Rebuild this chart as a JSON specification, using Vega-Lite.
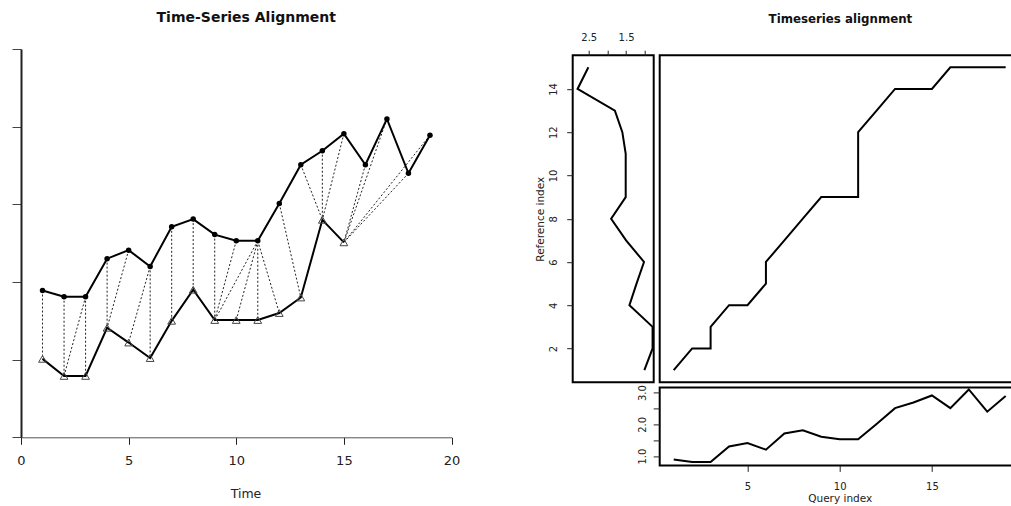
{
  "$schema": "https://vega.github.io/schema/vega-lite/v6.json",
  "padding": {"left": 11, "top": 10, "right": 0, "bottom": 0},
  "background": "white",
  "config": {
    "font": "DejaVu Sans",
    "axis": {"grid": false, "domainColor": "#222", "tickColor": "#222", "labelColor": "#222", "titleColor": "#222", "labelFont": "DejaVu Sans", "titleFont": "DejaVu Sans", "titleFontWeight": "normal", "labelFlush": false},
    "title": {"font": "DejaVu Sans", "fontWeight": "bold", "color": "#111"}
  },
  "datasets": {
    "top": [
      {"t": 1, "v": 1.89}, {"t": 2, "v": 1.81}, {"t": 3, "v": 1.81}, {"t": 4, "v": 2.30}, {"t": 5, "v": 2.41},
      {"t": 6, "v": 2.20}, {"t": 7, "v": 2.71}, {"t": 8, "v": 2.81}, {"t": 9, "v": 2.61}, {"t": 10, "v": 2.53},
      {"t": 11, "v": 2.53}, {"t": 12, "v": 3.01}, {"t": 13, "v": 3.51}, {"t": 14, "v": 3.69}, {"t": 15, "v": 3.91},
      {"t": 16, "v": 3.51}, {"t": 17, "v": 4.10}, {"t": 18, "v": 3.40}, {"t": 19, "v": 3.89}
    ],
    "query": [
      {"t": 1, "v": 0.89}, {"t": 2, "v": 0.81}, {"t": 3, "v": 0.81}, {"t": 4, "v": 1.30}, {"t": 5, "v": 1.41},
      {"t": 6, "v": 1.20}, {"t": 7, "v": 1.71}, {"t": 8, "v": 1.81}, {"t": 9, "v": 1.61}, {"t": 10, "v": 1.53},
      {"t": 11, "v": 1.53}, {"t": 12, "v": 2.01}, {"t": 13, "v": 2.51}, {"t": 14, "v": 2.69}, {"t": 15, "v": 2.91},
      {"t": 16, "v": 2.51}, {"t": 17, "v": 3.10}, {"t": 18, "v": 2.40}, {"t": 19, "v": 2.89}
    ],
    "ref": [
      {"t": 1, "v": 1.01}, {"t": 2, "v": 0.79}, {"t": 3, "v": 0.79}, {"t": 4, "v": 1.41}, {"t": 5, "v": 1.22},
      {"t": 6, "v": 1.02}, {"t": 7, "v": 1.50}, {"t": 8, "v": 1.90}, {"t": 9, "v": 1.51}, {"t": 10, "v": 1.51},
      {"t": 11, "v": 1.51}, {"t": 12, "v": 1.60}, {"t": 13, "v": 1.80}, {"t": 14, "v": 2.80}, {"t": 15, "v": 2.51}
    ],
    "matches": [
      {"q": 1, "r": 1, "qv": 1.89, "rv": 1.01}, {"q": 2, "r": 2, "qv": 1.81, "rv": 0.79},
      {"q": 3, "r": 2, "qv": 1.81, "rv": 0.79}, {"q": 3, "r": 3, "qv": 1.81, "rv": 0.79},
      {"q": 4, "r": 4, "qv": 2.30, "rv": 1.41}, {"q": 5, "r": 4, "qv": 2.41, "rv": 1.41},
      {"q": 6, "r": 5, "qv": 2.20, "rv": 1.22}, {"q": 6, "r": 6, "qv": 2.20, "rv": 1.02},
      {"q": 7, "r": 7, "qv": 2.71, "rv": 1.50}, {"q": 8, "r": 8, "qv": 2.81, "rv": 1.90},
      {"q": 9, "r": 9, "qv": 2.61, "rv": 1.51}, {"q": 10, "r": 9, "qv": 2.53, "rv": 1.51},
      {"q": 11, "r": 9, "qv": 2.53, "rv": 1.51}, {"q": 11, "r": 10, "qv": 2.53, "rv": 1.51},
      {"q": 11, "r": 11, "qv": 2.53, "rv": 1.51}, {"q": 11, "r": 12, "qv": 2.53, "rv": 1.60},
      {"q": 12, "r": 13, "qv": 3.01, "rv": 1.80}, {"q": 13, "r": 14, "qv": 3.51, "rv": 2.80},
      {"q": 14, "r": 14, "qv": 3.69, "rv": 2.80}, {"q": 15, "r": 14, "qv": 3.91, "rv": 2.80},
      {"q": 16, "r": 15, "qv": 3.51, "rv": 2.51}, {"q": 17, "r": 15, "qv": 4.10, "rv": 2.51},
      {"q": 18, "r": 15, "qv": 3.40, "rv": 2.51}, {"q": 19, "r": 15, "qv": 3.89, "rv": 2.51}
    ],
    "path": [
      {"s": 1, "q": 1, "r": 1}, {"s": 2, "q": 2, "r": 2}, {"s": 3, "q": 3, "r": 2}, {"s": 4, "q": 3, "r": 3},
      {"s": 5, "q": 4, "r": 4}, {"s": 6, "q": 5, "r": 4}, {"s": 7, "q": 6, "r": 5}, {"s": 8, "q": 6, "r": 6},
      {"s": 9, "q": 7, "r": 7}, {"s": 10, "q": 8, "r": 8}, {"s": 11, "q": 9, "r": 9}, {"s": 12, "q": 10, "r": 9},
      {"s": 13, "q": 11, "r": 9}, {"s": 14, "q": 11, "r": 10}, {"s": 15, "q": 11, "r": 11}, {"s": 16, "q": 11, "r": 12},
      {"s": 17, "q": 12, "r": 13}, {"s": 18, "q": 13, "r": 14}, {"s": 19, "q": 14, "r": 14}, {"s": 20, "q": 15, "r": 14},
      {"s": 21, "q": 16, "r": 15}, {"s": 22, "q": 17, "r": 15}, {"s": 23, "q": 18, "r": 15}, {"s": 24, "q": 19, "r": 15}
    ]
  },
  "bounds": "full",
  "spacing": 73.7,
  "hconcat": [
    {
      "title": {"text": "Time-Series Alignment", "fontSize": 14, "dx": 10, "offset": 24},
      "width": 430.5,
      "height": 388.3,
      "view": {"stroke": null},
      "layer": [
        {
          "data": {"name": "matches"},
          "mark": {"type": "rule", "strokeDash": [2, 2], "strokeWidth": 1, "color": "#222"},
          "encoding": {
            "x": {"field": "q", "type": "quantitative", "scale": {"domain": [0, 20], "nice": false, "zero": false},
              "axis": {"values": [0, 5, 10, 15, 20], "tickSize": 7, "labelFontSize": 13, "labelPadding": 10, "title": "Time", "titleFontSize": 12.5, "titlePadding": 20, "titleX": 224.5, "domainColor": "#555"}},
            "y": {"field": "qv", "type": "quantitative", "scale": {"domain": [0, 5], "nice": false, "zero": false},
              "axis": {"values": [0, 1, 2, 3, 4, 5], "labels": false, "tickSize": 9, "title": null, "domainWidth": 2, "tickColor": "#444"}},
            "x2": {"field": "r"},
            "y2": {"field": "rv"}
          }
        },
        {
          "data": {"name": "top"},
          "mark": {"type": "line", "color": "black", "strokeWidth": 2, "point": {"filled": true, "size": 30, "color": "black"}},
          "encoding": {
            "x": {"field": "t", "type": "quantitative"},
            "y": {"field": "v", "type": "quantitative"}
          }
        },
        {
          "data": {"name": "ref"},
          "mark": {"type": "line", "color": "black", "strokeWidth": 2},
          "encoding": {
            "x": {"field": "t", "type": "quantitative"},
            "y": {"field": "v", "type": "quantitative"}
          }
        },
        {
          "data": {"name": "ref"},
          "mark": {"type": "point", "shape": "triangle-up", "filled": false, "size": 60, "color": "#444", "strokeWidth": 1, "opacity": 1},
          "encoding": {
            "x": {"field": "t", "type": "quantitative"},
            "y": {"field": "v", "type": "quantitative"}
          }
        }
      ]
    },
    {
      "title": {"text": "Timeseries alignment", "fontSize": 11.8, "anchor": "middle", "dx": 63, "offset": 5.4},
      "columns": 2,
      "align": "each",
      "bounds": "flush",
      "spacing": {"column": 6, "row": 5.2},
      "concat": [
        {
          "width": 81,
          "height": 0.01,
          "view": {"stroke": null},
          "data": {"values": []},
          "mark": "point"
        },
        {
          "width": 360,
          "height": 0.01,
          "view": {"stroke": null},
          "data": {"values": []},
          "mark": "point"
        },
        {
          "width": 81,
          "height": 327,
          "view": {"stroke": "black", "strokeWidth": 2},
          "data": {"name": "ref"},
          "mark": {"type": "line", "color": "black", "strokeWidth": 2},
          "encoding": {
            "x": {"field": "v", "type": "quantitative", "scale": {"domain": [0.76, 2.93], "reverse": true, "nice": false, "zero": false},
              "axis": {"orient": "top", "values": [1, 1.5, 2, 2.5], "labelExpr": "datum.value == 2.5 || datum.value == 1.5 ? format(datum.value, '.1f') : ''", "tickSize": 5, "labelFontSize": 10, "labelPadding": 7.8, "domain": false, "title": null}},
            "y": {"field": "t", "type": "quantitative", "scale": {"domain": [0.44, 15.56], "nice": false, "zero": false},
              "axis": {"values": [2, 4, 6, 8, 10, 12, 14], "labelAngle": -90, "tickSize": 6, "labelFontSize": 10, "labelPadding": 8, "domain": false, "title": "Reference index", "titleFontSize": 10.5, "titlePadding": 3.6}},
            "order": {"field": "t"}
          }
        },
        {
          "width": 360,
          "height": 327,
          "view": {"stroke": "black", "strokeWidth": 2},
          "data": {"name": "path"},
          "mark": {"type": "line", "color": "black", "strokeWidth": 2},
          "encoding": {
            "x": {"field": "q", "type": "quantitative", "scale": {"domain": [0.24, 19.76], "nice": false, "zero": false}, "axis": null},
            "y": {"field": "r", "type": "quantitative", "scale": {"domain": [0.44, 15.56], "nice": false, "zero": false}, "axis": null},
            "order": {"field": "s"}
          }
        },
        {
          "width": 81,
          "height": 78,
          "view": {"stroke": null},
          "data": {"values": []},
          "mark": "point"
        },
        {
          "width": 360,
          "height": 78,
          "view": {"stroke": "black", "strokeWidth": 2},
          "data": {"name": "query"},
          "mark": {"type": "line", "color": "black", "strokeWidth": 2},
          "encoding": {
            "x": {"field": "t", "type": "quantitative", "scale": {"domain": [0.24, 19.76], "nice": false, "zero": false},
              "axis": {"values": [5, 10, 15], "tickSize": 6, "labelFontSize": 10, "labelPadding": 10.5, "domain": false, "title": "Query index", "titleFontSize": 10.5, "titlePadding": 1.5}},
            "y": {"field": "v", "type": "quantitative", "scale": {"domain": [0.706, 3.164], "nice": false, "zero": false},
              "axis": {"values": [1, 1.5, 2, 2.5, 3], "labelExpr": "datum.value == 1 || datum.value == 2 || datum.value == 3 ? format(datum.value, '.1f') : ''", "labelAngle": -90, "tickSize": 6.5, "labelFontSize": 10, "labelPadding": 5.5, "domain": false, "title": null}}
          }
        }
      ]
    }
  ]
}
